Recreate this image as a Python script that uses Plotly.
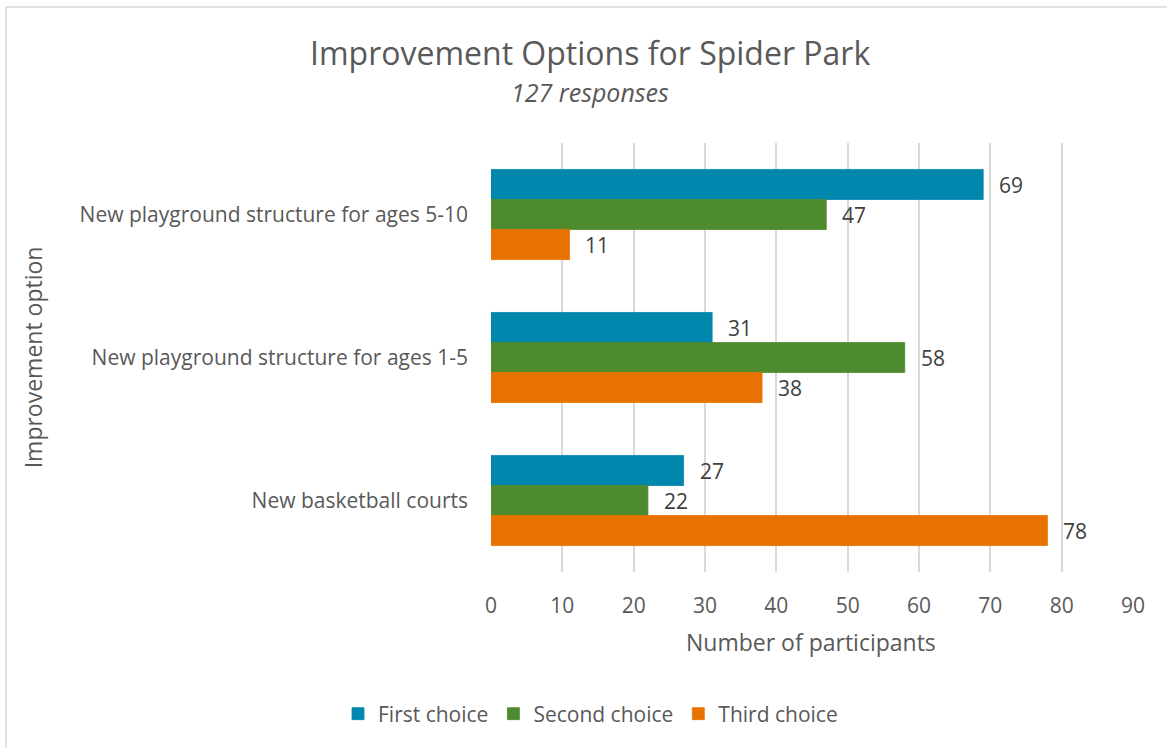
import plotly.graph_objects as go

# Survey results: ranked improvement options
categories = [
    "New playground structure for ages 5-10",
    "New playground structure for ages 1-5",
    "New basketball courts",
]
series_names = ["First choice", "Second choice", "Third choice"]
first_choice = [69, 31, 27]
second_choice = [47, 58, 22]
third_choice = [11, 38, 78]
x_ticks = [0, 10, 20, 30, 40, 50, 60, 70, 80, 90]

series_values = [first_choice, second_choice, third_choice]
colors = ["#0087ad", "#4e8b2e", "#e87200"]

FONT = "Open Sans"
TEXT_GREY = "#595959"
LABEL_GREY = "#404040"

fig = go.Figure()
for name, vals, col in zip(series_names, series_values, colors):
    fig.add_trace(go.Bar(
        name=name, y=categories, x=vals, orientation="h",
        marker=dict(color=col, line=dict(color=col, width=0.8)),
        hoverinfo="x+name",
    ))

# Value labels to the right of each bar (bars are ~30 px tall within a group)
annotations = []
for i, vals in enumerate(series_values):
    for cat, v in zip(categories, vals):
        annotations.append(dict(
            x=v, y=cat, xref="x", yref="y", text=str(v), showarrow=False,
            xanchor="left", yanchor="middle", xshift=14, yshift=(1 - i) * 30,
            font=dict(family=FONT, size=21, color=LABEL_GREY),
        ))

# Title, subtitle and axis titles
annotations += [
    dict(text="Improvement Options for Spider Park", xref="paper", yref="paper",
         x=0.154, y=1.21, showarrow=False, xanchor="center", yanchor="middle",
         font=dict(family=FONT, size=32, color=TEXT_GREY)),
    dict(text="<i>127 responses</i>", xref="paper", yref="paper",
         x=0.154, y=1.119, showarrow=False, xanchor="center", yanchor="middle",
         font=dict(family=FONT, size=25, color=TEXT_GREY)),
    dict(text="Improvement option", xref="paper", yref="paper",
         x=-0.713, y=0.501, showarrow=False, textangle=-90,
         xanchor="center", yanchor="middle",
         font=dict(family=FONT, size=23, color=TEXT_GREY)),
    dict(text="Number of participants", xref="paper", yref="paper",
         x=0.4985, y=-0.163, showarrow=False, xanchor="center", yanchor="middle",
         font=dict(family=FONT, size=23, color=TEXT_GREY)),
]

fig.update_layout(
    width=1167, height=748,
    margin=dict(l=491, r=34, t=143, b=176),
    paper_bgcolor="white", plot_bgcolor="white",
    barmode="group", bargap=0.37, bargroupgap=0,
    font=dict(family=FONT, size=21, color=TEXT_GREY),
    showlegend=True,
    legend=dict(orientation="h", x=0.155, y=-0.331, xanchor="center",
                yanchor="middle", font=dict(family=FONT, size=21, color=TEXT_GREY),
                itemwidth=30, traceorder="normal"),
    annotations=annotations,
    shapes=[dict(type="rect", xref="paper", yref="paper",
                 x0=-0.7555, y0=-1.2, x1=1.3, y1=1.317,
                 line=dict(color="#d9d9d9", width=1.5), layer="below")],
)

fig.update_xaxes(
    range=[0, 90], tickvals=x_ticks, showgrid=True, gridcolor="#d9d9d9",
    gridwidth=1.5, zeroline=False, showline=False, ticks="",
    tickfont=dict(family=FONT, size=21, color=TEXT_GREY), ticklabelstandoff=19,
)
fig.update_yaxes(
    autorange="reversed", showgrid=False, zeroline=False, showline=False,
    ticks="", tickfont=dict(family=FONT, size=21, color=TEXT_GREY),
    ticklabelstandoff=22,
)

fig.write_html("out.html")
